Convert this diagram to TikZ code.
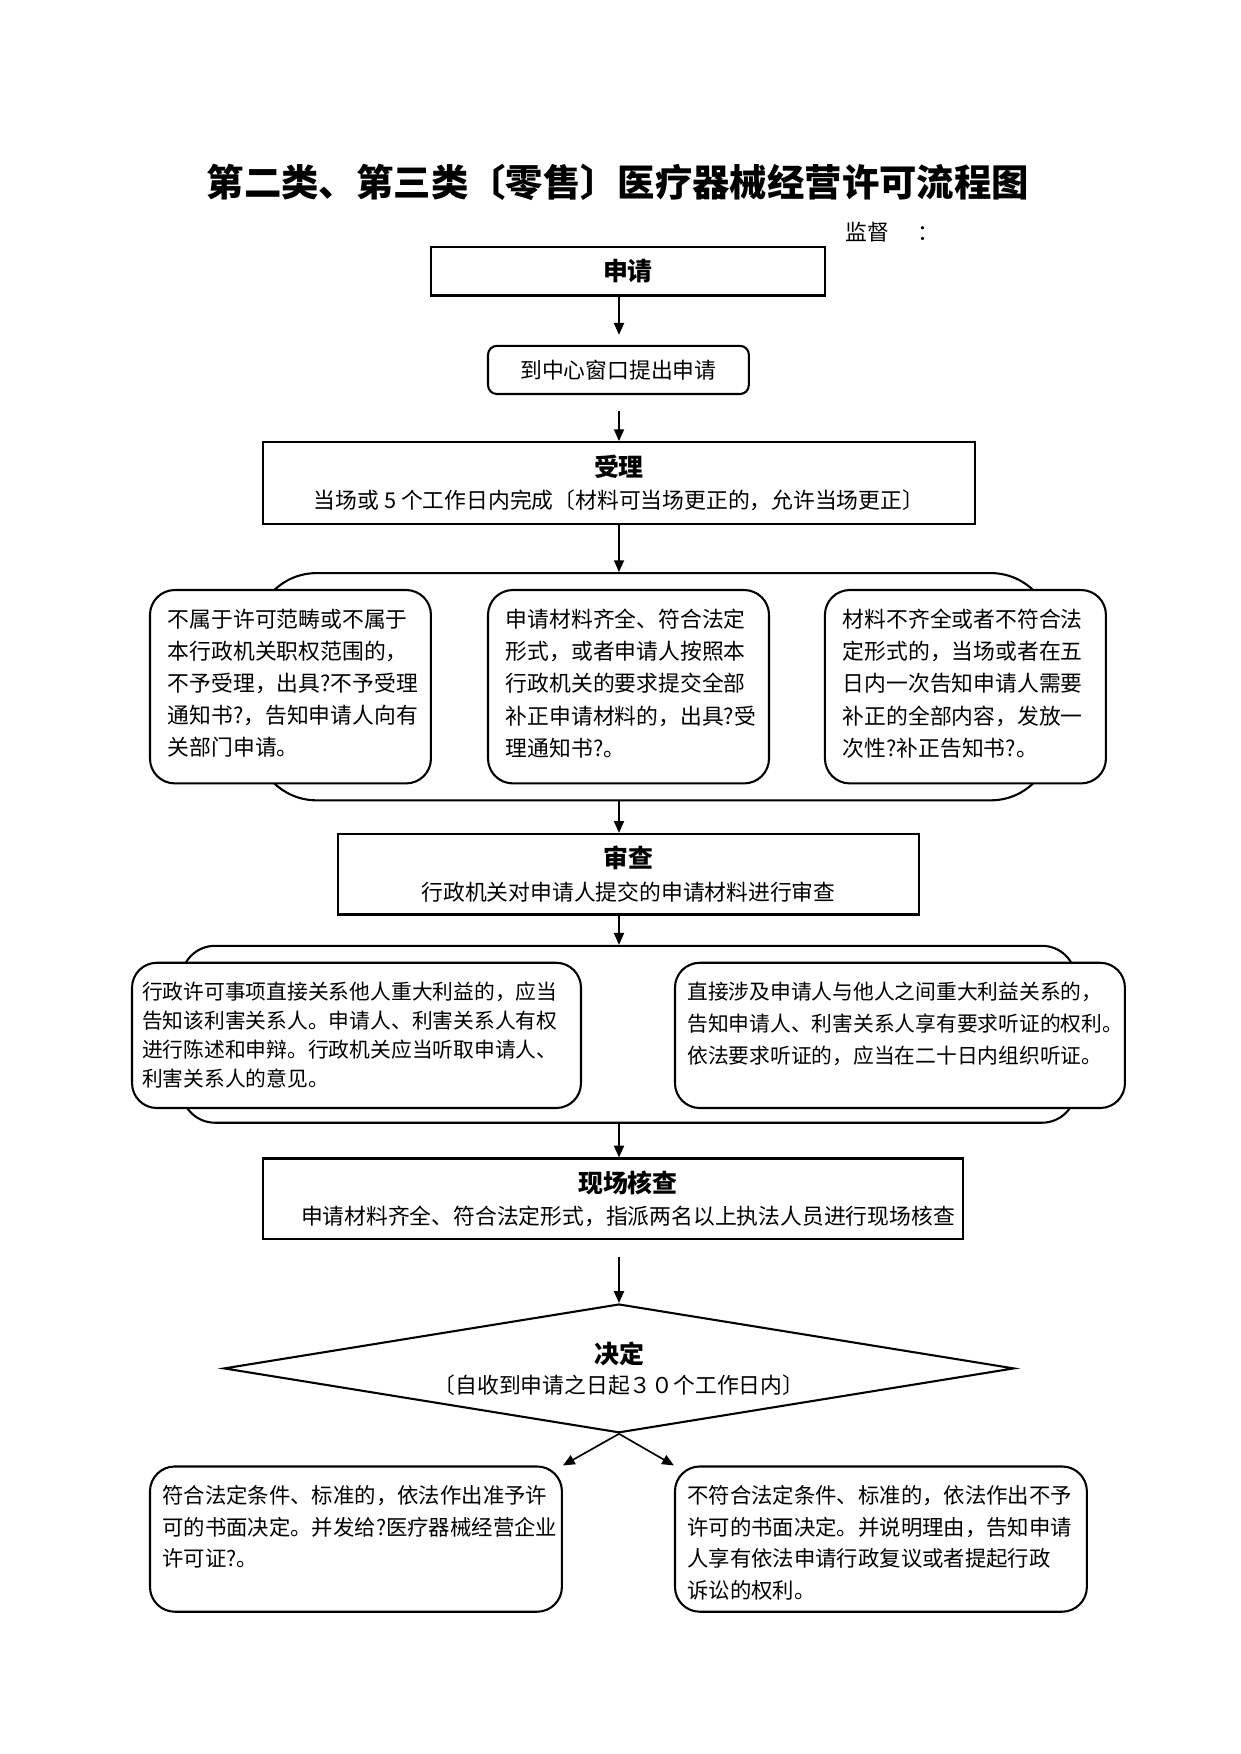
\documentclass[tikz,border=0pt]{standalone}
\usepackage{fontspec}
\setmainfont{Noto Sans CJK SC}
\usetikzlibrary{shapes.geometric,arrows.meta}
\def\px{0.018953cm}
\newcommand\headfont{\fontsize{12}{15.6}\selectfont\bfseries}
% text of a rounded note, set from the top of the box
\newcommand\notetext[3]{\parbox[c][#1][t]{#2}{#3}}
\tikzstyle{titletext}=[font=\fontsize{18}{22}\selectfont\bfseries]
\tikzstyle{plaintext}=[font=\fontsize{10.5}{14}\selectfont,inner sep=0pt]
\tikzstyle{stagebox}=[rectangle,draw=black,line width=1pt,inner sep=0pt,align=center,font=\fontsize{10.5}{15.6}\selectfont]
\tikzstyle{roundbox}=[stagebox,rounded corners=0.15cm]
\tikzstyle{groupbox}=[rectangle,draw=black,line width=1pt,inner sep=0pt]
\tikzstyle{notebox}=[rectangle,draw=black,line width=1pt,fill=white,rounded corners=0.42cm,inner ysep=0.32cm,font=\fontsize{10.5}{15.5}\selectfont]
\tikzstyle{decision}=[diamond,draw=black,line width=1pt,inner sep=0pt,aspect=6.14,align=center,font=\fontsize{10.5}{14.5}\selectfont]
\tikzstyle{flow}=[line width=0.8pt,-{Triangle[length=2mm,width=1.7mm]}]

\begin{document}
\begin{tikzpicture}[x=\px,y=-\px]
    \useasboundingbox (0,0) rectangle (1108,1567);
    \coordinate (axis) at (553,0);

    \node (title) at (552,163) [titletext] {第二类、第三类〔零售〕医疗器械经营许可流程图};
    \node (jiandu) at (755,207) [plaintext,anchor=west] {监督\hspace{1.3em}：};

    \node (shenqing) at (561,242.5) [stagebox,minimum width=6.671cm,minimum height=0.815cm] {\headfont 申请};
    \node (chuangkou) at (552.5,330.5) [roundbox,minimum width=4.416cm,minimum height=0.815cm] {到中心窗口提出申请};
    \node (shouli) at (553,431.5) [stagebox,minimum width=12.054cm,minimum height=1.384cm] {{\headfont 受理}\\当场或 5 个工作日内完成〔材料可当场更正的，允许当场更正〕};

    % first group: three outcomes of the acceptance
    \node (groupA) at (584,613.5) [groupbox,rounded corners=1.04cm,minimum width=13.495cm,minimum height=3.847cm] {};
    \node (buyu) at (259.5,613.5) [notebox,inner xsep=0.303cm] {\notetext{2.634cm}{4.151cm}{不属于许可范畴或不属于\\本行政机关职权范围的，\\不予受理，出具?不予受理\\通知书?，告知申请人向有\\关部门申请。}};
    \node (yuyu) at (561.5,613.5) [notebox,inner xsep=0.303cm] {\notetext{2.634cm}{4.151cm}{申请材料齐全、符合法定\\形式，或者申请人按照本\\行政机关的要求提交全部\\补正申请材料的，出具?受\\理通知书?。}};
    \node (buzheng) at (862.5,613.5) [notebox,inner xsep=0.303cm] {\notetext{2.634cm}{4.151cm}{材料不齐全或者不符合法\\定形式的，当场或者在五\\日内一次告知申请人需要\\补正的全部内容，发放一\\次性?补正告知书?。}};

    \node (shencha) at (561.5,781) [stagebox,minimum width=9.837cm,minimum height=1.365cm] {{\headfont 审查}\\行政机关对申请人提交的申请材料进行审查};

    % second group: interested parties
    \node (groupB) at (561.5,924) [groupbox,rounded corners=0.57cm,minimum width=15.143cm,minimum height=2.995cm] {};
    \node (lihai) at (318.5,925) [notebox,inner xsep=0.171cm,font=\fontsize{10}{14}\selectfont] {\notetext{1.819cm}{7.259cm}{行政许可事项直接关系他人重大利益的，应当\\告知该利害关系人。申请人、利害关系人有权\\进行陈述和申辩。行政机关应当听取申请人、\\利害关系人的意见。}};
    \node (tingzheng) at (804,925) [notebox,inner xsep=0.208cm,font=\fontsize{10}{15.5}\selectfont] {\notetext{1.819cm}{7.202cm}{直接涉及申请人与他人之间重大利益关系的，\\告知申请人、利害关系人享有要求听证的权利。\\依法要求听证的，应当在二十日内组织听证。}};

    \node (hecha) at (547.5,1071) [stagebox,minimum width=11.846cm,minimum height=1.365cm] {};
    \node (hechatext) at (561,1071) [stagebox,draw=none] {{\headfont 现场核查}\\申请材料齐全、符合法定形式，指派两名以上执法人员进行现场核查};

    \node (jueding) at (553,1222.5) [decision,minimum width=13.381cm,minimum height=2.180cm] {{\headfont 决定}\\〔自收到申请之日起３０个工作日内〕};

    \node (zhunyu) at (318,1375) [notebox,inner xsep=0.208cm,font=\fontsize{10.3}{15.2}\selectfont] {\notetext{1.819cm}{6.558cm}{符合法定条件、标准的，依法作出准予许\\可的书面决定。并发给?医疗器械经营企业\\许可证?。}};
    \node (buzhun) at (787,1375) [notebox,inner xsep=0.208cm,font=\fontsize{10.3}{15.2}\selectfont] {\notetext{1.819cm}{6.558cm}{不符合法定条件、标准的，依法作出不予\\许可的书面决定。并说明理由，告知申请\\人享有依法申请行政复议或者提起行政\\诉讼的权利。}};

    \draw (shenqing.south -| axis) -- (chuangkou.north -| axis) [flow,shorten >=0.17cm];
    \draw (chuangkou.south -| axis) -- (shouli.north -| axis) [flow,shorten <=0.265cm];
    \draw (shouli.south -| axis) -- (groupA.north -| axis) [flow];
    \draw (groupA.south -| axis) -- (shencha.north -| axis) [flow];
    \draw (shencha.south -| axis) -- (groupB.north -| axis) [flow];
    \draw (groupB.south -| axis) -- (hecha.north -| axis) [flow];
    \draw (hecha.south -| axis) -- (jueding.north) [flow,shorten <=0.284cm];

    \draw (jueding.south) -- (zhunyu.north east) [flow];
    \draw (jueding.south) -- (buzhun.north west) [flow];
\end{tikzpicture}
\end{document}
